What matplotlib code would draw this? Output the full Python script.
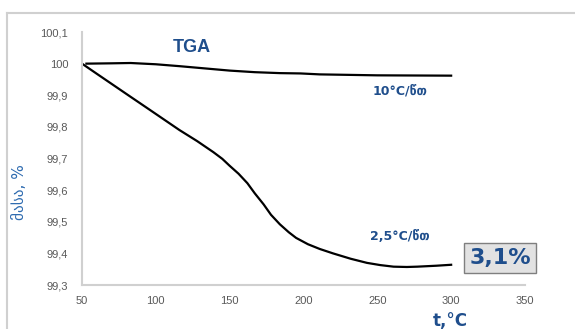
import matplotlib.pyplot as plt
from matplotlib.lines import Line2D
from matplotlib.ticker import FuncFormatter

# TGA curves
t_10 = [53, 70, 83, 100, 116, 133, 150, 167, 184, 198, 211, 250, 300]
m_10 = [100.0, 100.001, 100.002, 99.998, 99.992, 99.985, 99.978, 99.973, 99.970, 99.969, 99.966, 99.963, 99.962]

t_25 = [50, 60, 71, 82, 94, 105, 116, 128, 139, 145, 150, 156, 162, 167, 173, 178, 184, 190, 195, 203, 211, 220, 232, 243, 252, 261, 270, 277, 290, 300]
m_25 = [100.0, 99.968, 99.933, 99.898, 99.860, 99.825, 99.79, 99.755, 99.72, 99.699, 99.677, 99.652, 99.622, 99.59, 99.555, 99.522, 99.492, 99.467, 99.449, 99.429, 99.414, 99.40, 99.383, 99.37, 99.363, 99.358, 99.357, 99.358, 99.361, 99.364]

yticks = [99.3, 99.4, 99.5, 99.6, 99.7, 99.8, 99.9, 100, 100.1]
xticks = [50, 100, 150, 200, 250, 300, 350]

blue = '#1f4e8c'
grey = '#595959'

fig = plt.figure(figsize=(5.75, 3.29), dpi=100)
ax = fig.add_axes([0.1426, 0.1337, 0.913 - 0.1426, 0.9027 - 0.1337])

# outer frame of the chart area
fig.add_artist(Line2D([7/575, 1], [1 - 13/329, 1 - 13/329], color='#d0d0d0', lw=1.5))
fig.add_artist(Line2D([7/575, 7/575], [0, 1 - 13/329], color='#d0d0d0', lw=1.5))

ax.plot(t_10, m_10, color='black', lw=1.6)
ax.plot(t_25, m_25, color='black', lw=1.6)

ax.set_xlim(50, 350)
ax.set_ylim(99.3, 100.1)
ax.set_xticks(xticks)
ax.set_yticks(yticks)
ax.yaxis.set_major_formatter(FuncFormatter(lambda v, p: ('%g' % round(v, 1)).replace('.', ',')))
ax.tick_params(length=0, labelsize=8, colors=grey, pad=10)
ax.tick_params(axis='x', pad=8)
for lab in ax.get_xticklabels() + ax.get_yticklabels():
    lab.set_family('Liberation Sans')

for s in ['top', 'right']:
    ax.spines[s].set_visible(False)
for s in ['left', 'bottom']:
    ax.spines[s].set_color('#d0d0d0')
    ax.spines[s].set_linewidth(1.5)

ax.text(192/575, 1 - 47/329, 'TGA', transform=fig.transFigure, ha='center', va='center',
        color=blue, fontsize=13, fontweight='bold', family='Liberation Sans')
ax.text(400/575, 1 - 91/329, '10°C/წთ', transform=fig.transFigure, ha='center', va='center',
        color=blue, fontsize=9, fontweight='bold', family='DejaVu Sans')
ax.text(400/575, 1 - 237/329, '2,5°C/წთ', transform=fig.transFigure, ha='center', va='center',
        color=blue, fontsize=9, fontweight='bold', family='DejaVu Sans')
ax.text(500/575, 1 - 258/329, '3,1%', transform=fig.transFigure, ha='center', va='center',
        color=blue, fontsize=16, fontweight='bold', family='DejaVu Sans',
        bbox=dict(boxstyle='square,pad=0.22', fc='#e2e2e2', ec='#7f7f7f', lw=1))

fig.text(20/575, 1 - 192/329, 'მასა, %', rotation=90, ha='center', va='center',
         color='#2e6bb0', fontsize=11, family='DejaVu Sans')
fig.text(450/575, 1 - 321/329, 't,°C', ha='center', va='center',
         color=blue, fontsize=12, fontweight='bold', family='DejaVu Sans')

fig.savefig('out.png', dpi=100)
